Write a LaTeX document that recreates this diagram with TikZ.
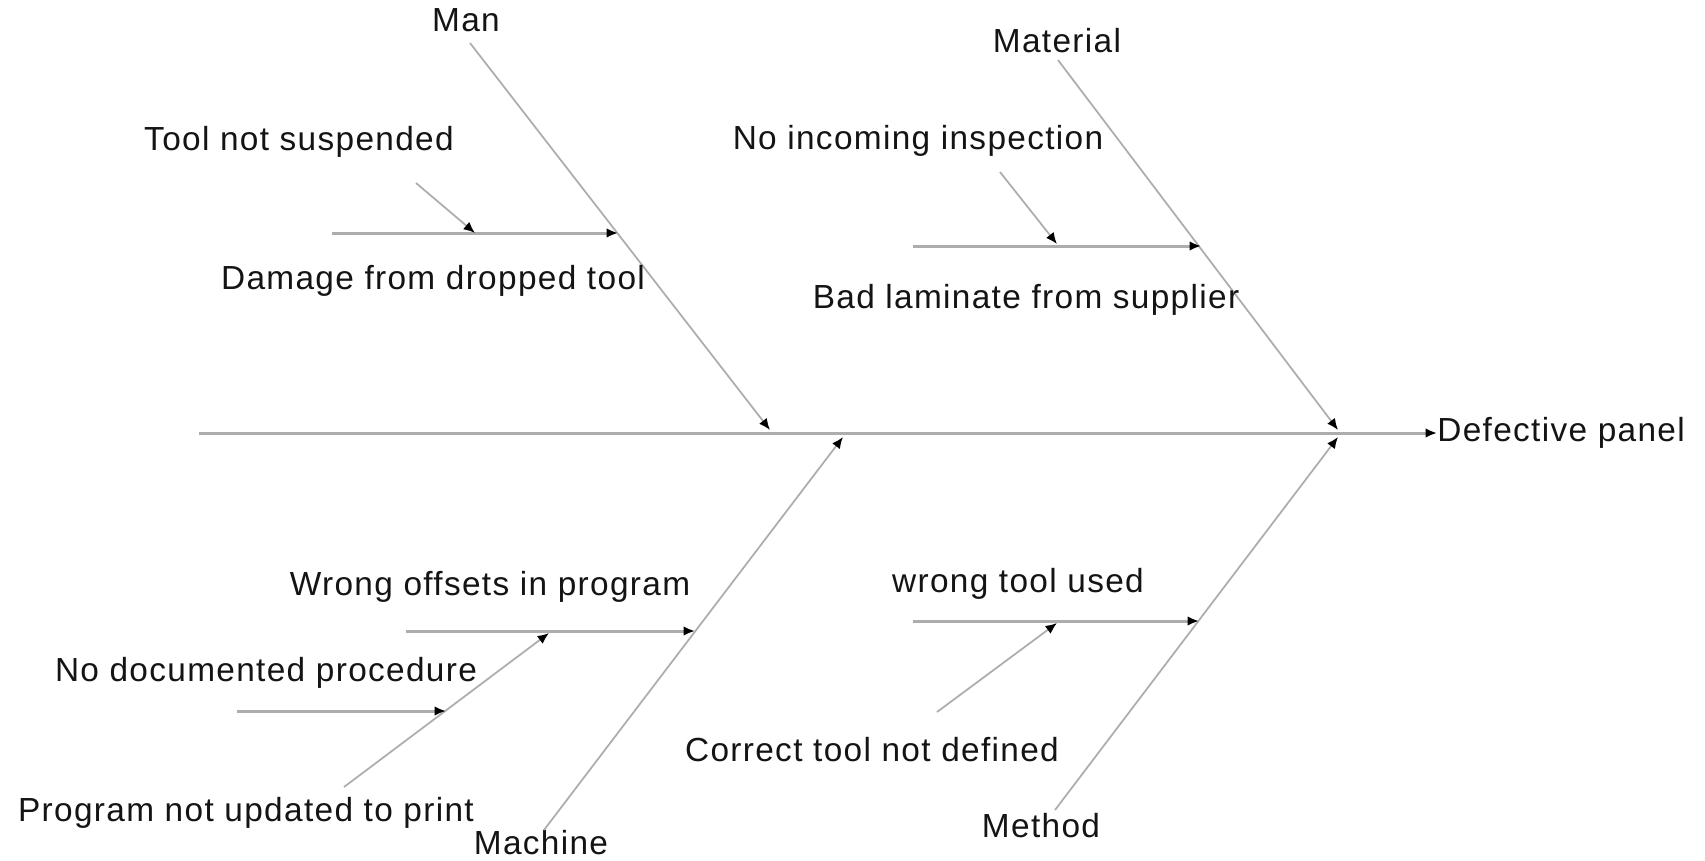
\documentclass[tikz,border=0pt]{standalone}
\usepackage{fontspec}
\setmainfont{Liberation Sans}[LetterSpace=4]
\usetikzlibrary{arrows.meta}
\definecolor{bonegray}{gray}{0.68}
\definecolor{inkgray}{gray}{0.08}

\begin{document}
\begin{tikzpicture}[
  x=0.02cm, y=-0.02cm,
  lbl/.style={font=\fontsize{19}{22}\selectfont, text=inkgray, inner sep=0pt},
  bone/.style={draw=bonegray, line width=1pt},
  rib/.style={draw=bonegray, line width=1.7pt},
  tip/.style={-{Latex[length=6.5pt,width=5.5pt,color=black]}}
]
  \useasboundingbox (0,0) rectangle (1705,860);

  % Spine and effect
  \coordinate (tail) at (199,433);
  \coordinate (head) at (1338,433);
  \node[lbl, anchor=west] (effect) at (1437,433) {Defective panel};
  \draw[rib] (tail) -- (head);
  \draw[rib, tip] (head) -- (effect.west);

  % Man
  \node[lbl] (man) at (466,20) {Man};
  \coordinate (man-top) at (470,43);
  \coordinate (man-end) at (770,430);
  \draw[bone, tip] (man-top) -- (man-end);
  \coordinate (dmg-start) at (332,233);
  \coordinate (dmg-end) at (618,233);
  \draw[rib, tip] (dmg-start) -- (dmg-end);
  \node[lbl] (dmg) at (433,281) {Damage from dropped tool};
  \node[lbl] (tns) at (299,142) {Tool not suspended};
  \coordinate (tns-top) at (416,183);
  \coordinate (tns-end) at (475,233);
  \draw[bone, tip] (tns-top) -- (tns-end);

  % Material
  \node[lbl] (mat) at (1057,41) {Material};
  \coordinate (mat-top) at (1058,60);
  \coordinate (mat-end) at (1338,430);
  \draw[bone, tip] (mat-top) -- (mat-end);
  \coordinate (lam-start) at (913,246);
  \coordinate (lam-end) at (1201,246);
  \draw[rib, tip] (lam-start) -- (lam-end);
  \node[lbl] (lam) at (1026,300) {Bad laminate from supplier};
  \node[lbl] (nii) at (918,141) {No incoming inspection};
  \coordinate (nii-top) at (1000,172);
  \coordinate (nii-end) at (1057,244);
  \draw[bone, tip] (nii-top) -- (nii-end);

  % Machine
  \node[lbl] (mach) at (541,843) {Machine};
  \coordinate (mach-bot) at (544,830);
  \coordinate (mach-end) at (843,437);
  \draw[bone, tip] (mach-bot) -- (mach-end);
  \coordinate (off-start) at (406,631);
  \coordinate (off-end) at (695,631);
  \draw[rib, tip] (off-start) -- (off-end);
  \node[lbl] (off) at (490,587) {Wrong offsets in program};
  \node[lbl] (pnu) at (246,813) {Program not updated to print};
  \coordinate (pnu-bot) at (344,787);
  \coordinate (pnu-end) at (549,633);
  \draw[bone, tip] (pnu-bot) -- (pnu-end);
  \node[lbl] (ndp) at (266,673) {No documented procedure};
  \coordinate (ndp-start) at (237,711);
  \coordinate (ndp-end) at (446,711);
  \draw[rib, tip] (ndp-start) -- (ndp-end);

  % Method
  \node[lbl] (meth) at (1041,826) {Method};
  \coordinate (meth-bot) at (1055,810);
  \coordinate (meth-end) at (1338,437);
  \draw[bone, tip] (meth-bot) -- (meth-end);
  \coordinate (wtu-start) at (913,621);
  \coordinate (wtu-end) at (1199,621);
  \draw[rib, tip] (wtu-start) -- (wtu-end);
  \node[lbl] (wtu) at (1018,584) {wrong tool used};
  \node[lbl] (ctn) at (872,750) {Correct tool not defined};
  \coordinate (ctn-bot) at (937,712);
  \coordinate (ctn-end) at (1057,623);
  \draw[bone, tip] (ctn-bot) -- (ctn-end);
\end{tikzpicture}
\end{document}
